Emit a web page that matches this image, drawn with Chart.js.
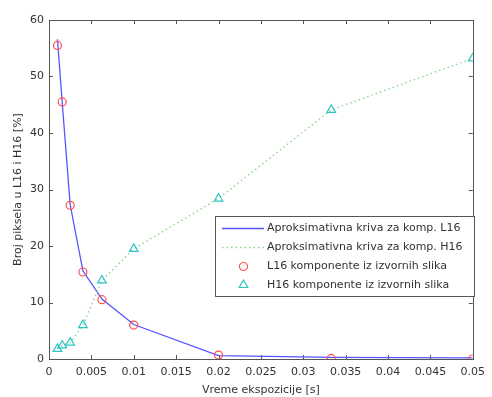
<!DOCTYPE html>
<html>
<head>
<meta charset="utf-8">
<script src="https://cdn.jsdelivr.net/npm/chart.js@4.4.0/dist/chart.umd.min.js"></script>
<style>
  html, body { margin: 0; padding: 0; background: #fff; }
  #wrap { width: 492px; height: 397px; }
</style>
</head>
<body>
<div id="wrap"><canvas id="exposureChart" width="492" height="397"></canvas></div>
<script>
// exposure times [s]
const exposure = [0.001, 0.0015625, 0.0025, 0.004, 0.00625, 0.01, 0.02, 0.0333, 0.05];
// measured share of pixels [%]
const l16Points = [55.5, 45.5, 27.2, 15.4, 10.5, 6.0, 0.7, 0.1, 0.0];
const h16Points = [1.8, 2.4, 2.9, 6.0, 13.9, 19.5, 28.4, 44.1, 53.2];
// approximation curves
const l16Fit = [56.6, 45.3, 27.3, 15.6, 10.6, 6.1, 0.6, 0.3, 0.2];
const h16Fit = [1.8, 2.4, 2.9, 6.0, 13.9, 19.5, 28.4, 44.1, 53.2];

const xTicks = [0, 0.005, 0.01, 0.015, 0.02, 0.025, 0.03, 0.035, 0.04, 0.045, 0.05];
const yTicks = [0, 10, 20, 30, 40, 50, 60];

const seriesLabels = [
    "Aproksimativna kriva za komp. L16",
    "Aproksimativna kriva za komp. H16",
    "L16 komponente iz izvornih slika",
    "H16 komponente iz izvornih slika"
];

const toXY = (ys) => exposure.map((x, i) => ({ x: x, y: ys[i] }));

Chart.defaults.font.family = "'DejaVu Sans', sans-serif";
Chart.defaults.font.size = 11;
Chart.defaults.color = "#333";

// MATLAB-like box with inward ticks on all four sides
const boxPlugin = {
    id: "box",
    beforeDatasetsDraw(chart) {
        const { ctx, chartArea: a, scales } = chart;
        ctx.save();
        ctx.strokeStyle = "#555";
        ctx.lineWidth = 1;
        ctx.beginPath();
        xTicks.forEach(v => {
            const px = Math.round(scales.x.getPixelForValue(v)) + 0.5;
            ctx.moveTo(px, a.bottom); ctx.lineTo(px, a.bottom - 4);
            ctx.moveTo(px, a.top); ctx.lineTo(px, a.top + 4);
        });
        yTicks.forEach(v => {
            const py = Math.round(scales.y.getPixelForValue(v)) + 0.5;
            ctx.moveTo(a.left, py); ctx.lineTo(a.left + 4, py);
            ctx.moveTo(a.right, py); ctx.lineTo(a.right - 4, py);
        });
        ctx.stroke();
        ctx.strokeRect(Math.round(a.left) + 0.5, Math.round(a.top) + 0.5,
            Math.round(a.right - a.left), Math.round(a.bottom - a.top));
        ctx.restore();
    },
    afterDraw(chart) {
        // legend inside the plot, lower right
        const { ctx } = chart;
        const bx = 215.5, by = 216.5, bw = 259, bh = 80;
        ctx.save();
        ctx.fillStyle = "#fff";
        ctx.fillRect(bx, by, bw, bh);
        ctx.strokeStyle = "#555";
        ctx.lineWidth = 1;
        ctx.strokeRect(bx, by, bw, bh);
        ctx.font = "11px 'DejaVu Sans', sans-serif";
        ctx.textBaseline = "middle";
        const rows = [228.5, 247.5, 266.5, 285];
        chart.data.datasets.forEach((ds, i) => {
            const y = rows[i];
            ctx.save();
            if (ds.showLine) {
                ctx.strokeStyle = ds.borderColor;
                ctx.lineWidth = ds.borderWidth;
                ctx.setLineDash(ds.borderDash || []);
                ctx.beginPath();
                ctx.moveTo(222, y); ctx.lineTo(264, y);
                ctx.stroke();
            } else {
                ctx.strokeStyle = ds.pointBorderColor;
                ctx.fillStyle = "rgba(0,0,0,0)";
                ctx.lineWidth = ds.pointBorderWidth;
                Chart.helpers.drawPoint(ctx, {
                    pointStyle: ds.pointStyle, radius: ds.pointRadius,
                    borderWidth: ds.pointBorderWidth, rotation: 0
                }, 243.5, y);
            }
            ctx.restore();
            ctx.fillStyle = "#333";
            ctx.fillText(ds.label, 267, y);
        });
        ctx.restore();
    }
};

const ctx = document.getElementById("exposureChart").getContext("2d");

new Chart(ctx, {
    type: "scatter",
    data: {
        datasets: [
            {
                label: seriesLabels[0],
                data: toXY(l16Fit),
                showLine: true,
                borderColor: "#5555ff",
                borderWidth: 1.3,
                pointRadius: 0,
                tension: 0,
                order: 4
            },
            {
                label: seriesLabels[1],
                data: toXY(h16Fit),
                showLine: true,
                borderColor: "#86d486",
                borderWidth: 1.3,
                borderDash: [1.5, 3],
                pointRadius: 0,
                order: 3
            },
            {
                label: seriesLabels[2],
                data: toXY(l16Points),
                showLine: false,
                pointStyle: "circle",
                pointRadius: 4,
                pointBorderWidth: 1.2,
                pointBorderColor: "#ff4f4f",
                pointBackgroundColor: "rgba(0,0,0,0)",
                order: 2
            },
            {
                label: seriesLabels[3],
                data: toXY(h16Points),
                showLine: false,
                pointStyle: "triangle",
                pointRadius: 5,
                pointBorderWidth: 1.2,
                pointBorderColor: "#2fc4c4",
                pointBackgroundColor: "rgba(0,0,0,0)",
                order: 1
            }
        ]
    },
    options: {
        responsive: false,
        animation: false,
        layout: { padding: { top: 20, right: 13, left: 0, bottom: 0 } },
        plugins: {
            legend: { display: false },
            tooltip: { enabled: false }
        },
        scales: {
            x: {
                type: "linear",
                min: 0,
                max: 0.05,
                afterBuildTicks: (s) => { s.ticks = xTicks.map(v => ({ value: v })); },
                afterFit: (s) => { s.height = 38; },
                grid: { display: false, drawTicks: false },
                border: { display: false },
                ticks: {
                    padding: 7,
                    maxRotation: 0,
                    autoSkip: false,
                    callback: (v) => String(Number(v.toFixed(3)))
                },
                title: { display: true, text: "Vreme ekspozicije [s]", padding: { top: 1, bottom: 0 } }
            },
            y: {
                min: 0,
                max: 60,
                afterBuildTicks: (s) => { s.ticks = yTicks.map(v => ({ value: v })); },
                afterFit: (s) => { s.width = 49; },
                grid: { display: false, drawTicks: false },
                border: { display: false },
                ticks: { padding: 5 },
                title: { display: true, text: "Broj piksela u L16 i H16 [%]", padding: { top: 12, bottom: 0 } }
            }
        }
    },
    plugins: [boxPlugin]
});
</script>
</body>
</html>
